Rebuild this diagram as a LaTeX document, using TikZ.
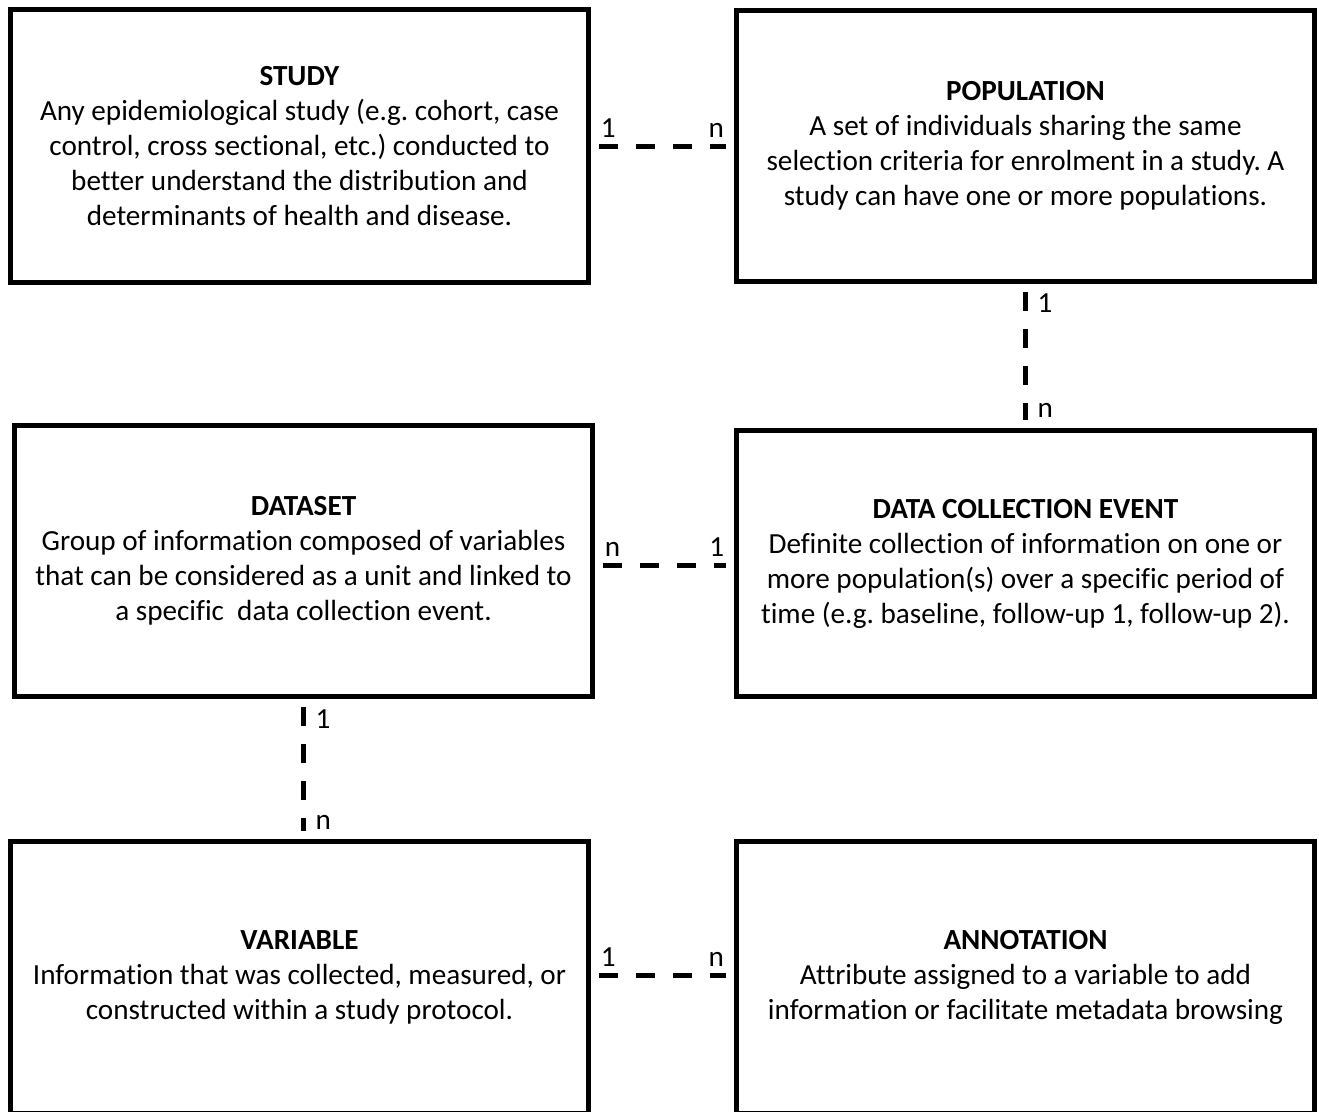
\documentclass[tikz,border=0pt]{standalone}
\usepackage{fontspec}
\setmainfont{Carlito}[Ligatures=NoCommon]
\frenchspacing

\begin{document}
\begin{tikzpicture}[x=0.02cm,y=-0.02cm,
  entity/.style={draw,line width=0.1cm,minimum width=11.58cm,align=center,inner sep=0pt,font=\fontsize{16.6}{19.9}\selectfont},
  link/.style={line width=0.1cm,dash pattern=on 0.38cm off 0.36cm,shorten <=0.16cm,shorten >=0.16cm},
  card/.style={inner sep=0pt,font=\fontsize{16.6}{19.9}\selectfont}]
\useasboundingbox (0,0) rectangle (1319,1112);
% entities
\node[entity,minimum height=5.46cm] (study) at (299.5,146)
  {\textbf{STUDY}\\Any epidemiological study (e.g. cohort, case\\control, cross sectional, etc.) conducted to\\better understand the distribution and\\determinants of health and disease.};
\node[entity,minimum height=5.42cm] (population) at (1025.5,146)
  {\textbf{POPULATION}\\A set of individuals sharing the same\\selection criteria for enrolment in a study. A\\study can have one or more populations.};
\node[entity,minimum height=5.44cm] (dataset) at (303.5,561)
  {\textbf{DATASET}\\Group of information composed of variables\\that can be considered as a unit and linked to\\a specific\ \ data collection event.};
\node[entity,minimum height=5.34cm] (dce) at (1025.5,563.5)
  {\textbf{DATA COLLECTION EVENT}\\Definite collection of information on one or\\more population(s) over a specific period of\\time (e.g. baseline, follow-up 1, follow-up 2).};
\node[entity,minimum height=5.43cm] (variable) at (299.5,977.5)
  {\textbf{VARIABLE}\\Information that was collected, measured, or\\constructed within a study protocol.};
\node[entity,minimum height=5.43cm] (annotation) at (1025.5,977.5)
  {\textbf{ANNOTATION}\\Attribute assigned to a variable to add\\information or facilitate metadata browsing};
% relations
\draw[link] (study.east) -- (study.east -| population.west)
  node[card,pos=0,anchor=south west,xshift=0.14cm,yshift=0.12cm] (studyone) {1}
  node[card,pos=1,anchor=south east,xshift=-0.14cm,yshift=0.12cm] (popmany) {n};
\draw[link] (population.south) -- (dce.north)
  node[card,pos=0,anchor=north west,xshift=0.19cm,yshift=-0.15cm] (popone) {1}
  node[card,pos=1,anchor=south west,xshift=0.19cm,yshift=0.15cm] (dcemany) {n};
\draw[link] ([yshift=-0.08cm]dataset.east) -- ([yshift=-0.08cm]dataset.east -| dce.west)
  node[card,pos=0,anchor=south west,xshift=0.14cm,yshift=0.12cm] (datamany) {n}
  node[card,pos=1,anchor=south east,xshift=-0.14cm,yshift=0.12cm] (dceone) {1};
\draw[link] (dataset.south) -- (dataset.south |- variable.north)
  node[card,pos=0,anchor=north west,xshift=0.19cm,yshift=-0.15cm] (dataone) {1}
  node[card,pos=1,anchor=south west,xshift=0.19cm,yshift=0.15cm] (varmany) {n};
\draw[link] ([yshift=0.05cm]variable.east) -- ([yshift=0.05cm]variable.east -| annotation.west)
  node[card,pos=0,anchor=south west,xshift=0.14cm,yshift=0.12cm] (varone) {1}
  node[card,pos=1,anchor=south east,xshift=-0.14cm,yshift=0.12cm] (annmany) {n};
\end{tikzpicture}
\end{document}
